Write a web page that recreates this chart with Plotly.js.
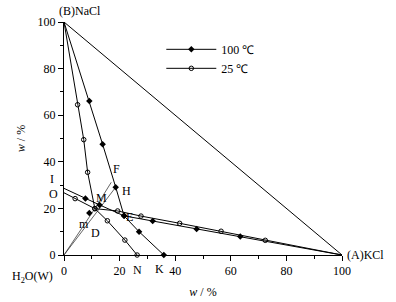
<!DOCTYPE html>
<html>
<head>
<meta charset="utf-8">
<script src="https://cdn.plot.ly/plotly-3.0.1.min.js"></script>
<style>
  html, body { margin: 0; padding: 0; background: #fff; }
  #chart { width: 396px; height: 302px; }
</style>
</head>
<body>
<div id="chart"></div>
<script>
// ---- Data (w% KCl on x, w% NaCl on y) ----
const seriesNames = ['100 \u2103', '25 \u2103'];

// 100 °C: NaCl-side branch B -> ... -> E -> ... -> K
const t100BranchX = [0, 9.1, 13.9, 18.6, 21.6, 27.0, 35.9];
const t100BranchY = [100, 66.1, 47.5, 29.1, 16.8, 10.0, 0];
// 100 °C: I -> ... -> E -> ... -> A
const t100LineX = [0, 7.7, 12.8, 21.6, 31.9, 47.7, 63.4, 100];
const t100LineY = [28.6, 24.2, 21.5, 16.8, 14.6, 11.2, 7.9, 0];

// 25 °C: B -> ... -> M -> ... -> N
const t25BranchX = [0, 4.9, 7.1, 8.5, 11.1, 15.6, 21.9, 26.3];
const t25BranchY = [100, 64.5, 49.5, 35.5, 19.9, 14.7, 6.4, 0];
// 25 °C: O -> ... -> M -> ... -> A
const t25LineX = [0, 4.0, 11.1, 19.3, 27.7, 41.6, 56.5, 72.4, 100];
const t25LineY = [26.7, 24.2, 19.9, 18.9, 16.7, 13.6, 10.2, 6.3, 0];

// triangle side B-A
const sideX = [0, 100];
const sideY = [100, 0];

// construction lines from water point W
const lineWFX = [0, 11.1, 17.0];
const lineWFY = [0, 19.9, 31.2];
const lineWHX = [0, 18.6];
const lineWHY = [0, 29.1];
// point m
const pointMX = [9.1];
const pointMY = [18.0];

// tick values
const tickVals = [0, 20, 40, 60, 80, 100];

// labelled points: [text, x, y]
const pointLabels = [
  ['(B)NaCl', 0, 100],
  ['(A)KCl', 100, 0],
  ['H<sub>2</sub>O(W)', 0, 0],
  ['I', 0, 28.6],
  ['O', 0, 26.7],
  ['N', 26.3, 0],
  ['K', 35.9, 0],
  ['F', 17.0, 31.2],
  ['H', 18.6, 29.1],
  ['M', 11.1, 19.9],
  ['E', 21.6, 16.8],
  ['m', 9.1, 18.0],
  ['D', 11.1, 19.9]
];

// ---- Styles ----
const FONT = '"Liberation Serif", "Times New Roman", serif';
const BLACK = '#000';
const labelShift = {
  '(B)NaCl': [16, 11, 'center'],
  '(A)KCl': [3, 0, 'left'],
  'H<sub>2</sub>O(W)': [-32, -22, 'center'],
  'I': [-12, 9, 'center'],
  'O': [-11, -1, 'center'],
  'N': [0, -15, 'center'],
  'K': [-4, -14, 'center'],
  'F': [5, 13, 'center'],
  'H': [11, -4, 'center'],
  'M': [7, 11, 'center'],
  'E': [5, -1, 'center'],
  'm': [-5, -11, 'center'],
  'D': [1, -24, 'center']
};

const lineStyle = {color: BLACK, width: 1};
const thinStyle = {color: '#222', width: 0.7};
const diamond = {symbol: 'diamond', size: 5, color: BLACK};
const openCircle = {symbol: 'circle-open', size: 4.5, color: BLACK, line: {color: BLACK, width: 1}};

const traces = [
  {x: sideX, y: sideY, mode: 'lines', line: lineStyle, showlegend: false, hoverinfo: 'skip', cliponaxis: false},
  {x: lineWFX, y: lineWFY, mode: 'lines', line: thinStyle, showlegend: false, hoverinfo: 'skip', cliponaxis: false},
  {x: lineWHX, y: lineWHY, mode: 'lines', line: thinStyle, showlegend: false, hoverinfo: 'skip', cliponaxis: false},
  {x: pointMX, y: pointMY, mode: 'markers', marker: diamond, showlegend: false, cliponaxis: false},
  // 100 °C
  {x: t100BranchX, y: t100BranchY, mode: 'lines', line: lineStyle, showlegend: false, hoverinfo: 'skip', cliponaxis: false},
  {x: t100BranchX.slice(1), y: t100BranchY.slice(1), mode: 'markers', marker: diamond, showlegend: false, cliponaxis: false},
  {x: t100LineX, y: t100LineY, mode: 'lines', line: lineStyle, showlegend: false, hoverinfo: 'skip', cliponaxis: false},
  {x: t100LineX.slice(1, -1), y: t100LineY.slice(1, -1), mode: 'markers', marker: diamond, showlegend: false, cliponaxis: false},
  // 25 °C
  {x: t25BranchX, y: t25BranchY, mode: 'lines', line: lineStyle, showlegend: false, hoverinfo: 'skip', cliponaxis: false},
  {x: t25BranchX.slice(1), y: t25BranchY.slice(1), mode: 'markers', marker: openCircle, showlegend: false, cliponaxis: false},
  {x: t25LineX, y: t25LineY, mode: 'lines', line: lineStyle, showlegend: false, hoverinfo: 'skip', cliponaxis: false},
  {x: t25LineX.slice(1, -1), y: t25LineY.slice(1, -1), mode: 'markers', marker: openCircle, showlegend: false, cliponaxis: false},
  // legend entries
  {x: [null], y: [null], name: seriesNames[0], mode: 'lines+markers', line: lineStyle, marker: diamond, showlegend: true},
  {x: [null], y: [null], name: seriesNames[1], mode: 'lines+markers', line: lineStyle, marker: openCircle, showlegend: true}
];

const annotations = pointLabels.map(([text, x, y]) => {
  const s = labelShift[text];
  return {
    text: text, x: x, y: y, xref: 'x', yref: 'y', showarrow: false,
    xshift: s[0], yshift: s[1], xanchor: s[2], yanchor: 'middle',
    font: {family: FONT, size: 12, color: BLACK}
  };
});

const axisCommon = {
  range: [0, 100], tickvals: tickVals, ticks: 'outside', ticklen: 5, tickwidth: 1, tickcolor: BLACK,
  minor: {dtick: 10, ticks: 'outside', ticklen: 3, tickwidth: 1, tickcolor: BLACK, showgrid: false},
  showline: true, linecolor: BLACK, linewidth: 1, showgrid: false, zeroline: false,
  tickfont: {family: FONT, size: 12, color: BLACK}, fixedrange: true
};

const layout = {
  width: 396, height: 302,
  margin: {l: 64, r: 54, t: 22, b: 47, autoexpand: false},
  paper_bgcolor: '#fff', plot_bgcolor: '#fff',
  showlegend: true,
  legend: {
    x: 0.35, y: 0.945, xanchor: 'left', yanchor: 'top', bgcolor: 'rgba(0,0,0,0)',
    font: {family: FONT, size: 12, color: BLACK}, itemwidth: 50, tracegroupgap: 0
  },
  xaxis: Object.assign({}, axisCommon, {
    title: {text: '<i>w</i> / %', standoff: 10, font: {family: FONT, size: 12, color: BLACK}}
  }),
  yaxis: Object.assign({}, axisCommon, {
    title: {text: '<i>w</i> / %', standoff: 9, font: {family: FONT, size: 12, color: BLACK}}
  }),
  annotations: annotations
};

Plotly.newPlot('chart', traces, layout, {staticPlot: true, displayModeBar: false});
</script>
</body>
</html>
